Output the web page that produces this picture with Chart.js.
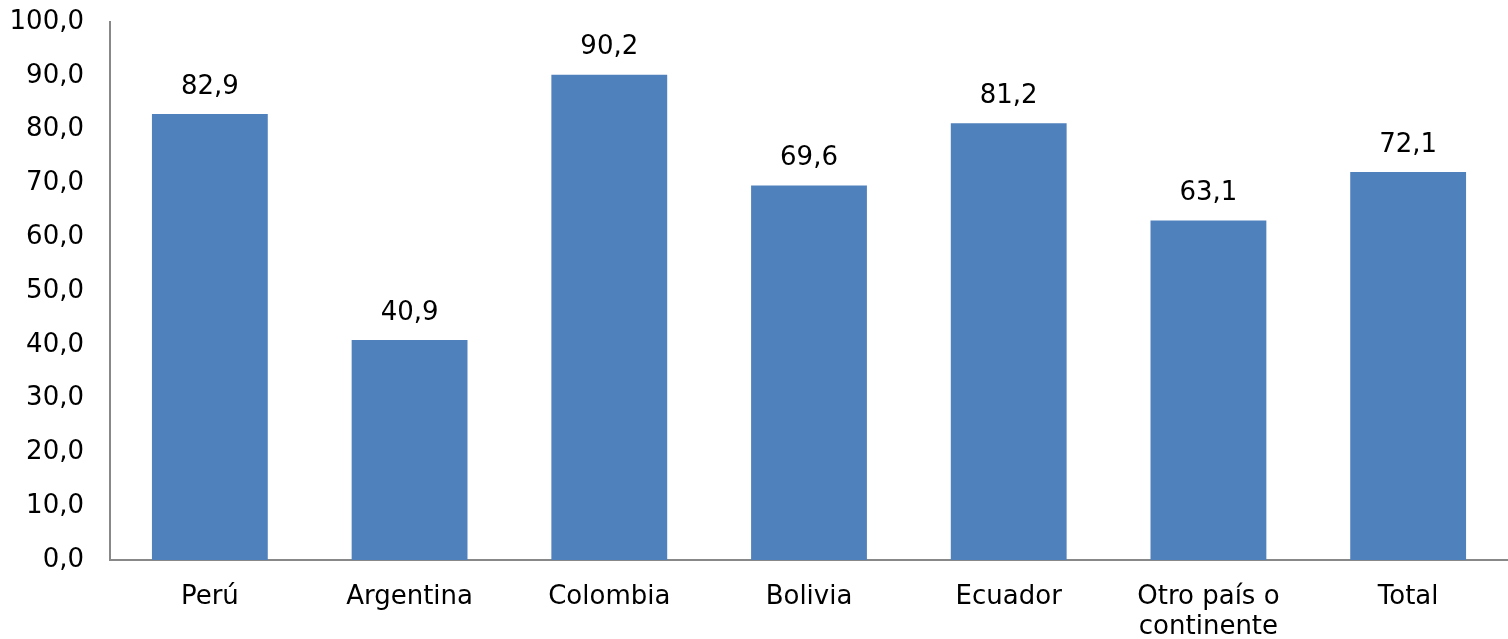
<!DOCTYPE html>
<html>
<head>
<meta charset="utf-8">
<script src="https://cdn.jsdelivr.net/npm/chart.js@4/dist/chart.umd.min.js"></script>
<style>
    html, body { margin: 0; padding: 0; background: #fff; }
    #wrap { width: 1508px; height: 639px; }
</style>
</head>
<body>
<div id="wrap"><canvas id="js-chart"></canvas></div>
<script>
// Chart data
const categories = ["Perú", "Argentina", "Colombia", "Bolivia", "Ecuador", ["Otro país o", "continente"], "Total"];
const values = [82.9, 40.9, 90.2, 69.6, 81.2, 63.1, 72.1];
const yTicks = [0, 10, 20, 30, 40, 50, 60, 70, 80, 90, 100];

const fontFamily = "'DejaVu Sans', Verdana, sans-serif";

// Comma decimal, one place
function fmt(v) {
    return v.toFixed(1).replace(".", ",");
}

Chart.defaults.color = "#000";
Chart.defaults.font.family = fontFamily;
Chart.defaults.font.size = 26;

// Value labels above the bars
const barLabels = {
    id: "barLabels",
    afterDatasetsDraw(chart) {
        const ctx = chart.ctx;
        const meta = chart.getDatasetMeta(0);
        ctx.save();
        ctx.font = "26px " + fontFamily;
        ctx.fillStyle = "#000";
        ctx.textAlign = "center";
        ctx.textBaseline = "middle";
        meta.data.forEach(function (bar, i) {
            ctx.fillText(fmt(values[i]), bar.x, bar.y - 27);
        });
        ctx.restore();
    },
};

new Chart(document.getElementById("js-chart"), {
    type: "bar",
    data: {
        labels: categories,
        datasets: [
            {
                data: values,
                backgroundColor: "#4F81BD",
                categoryPercentage: 1,
                barPercentage: 0.58,
            },
        ],
    },
    options: {
        responsive: true,
        maintainAspectRatio: false,
        animation: false,
        layout: { padding: { top: 22, right: 0, bottom: 0, left: 0 } },
        plugins: {
            legend: { display: false },
            tooltip: { enabled: false },
        },
        scales: {
            x: {
                grid: { display: false, drawTicks: false },
                border: { display: true, color: "#888", width: 2 },
                ticks: {
                    padding: 22,
                    maxRotation: 0,
                    autoSkip: false,
                    font: { size: 26, lineHeight: 1.15 },
                },
                afterFit(scale) {
                    scale.height = 79;
                    scale.paddingLeft = 0;
                    scale.paddingRight = 0;
                },
            },
            y: {
                min: 0,
                max: 100,
                grid: { display: false, drawTicks: false },
                border: { display: true, color: "#888", width: 2 },
                afterBuildTicks(scale) {
                    scale.ticks = yTicks.map(function (v) { return { value: v }; });
                },
                ticks: {
                    padding: 26,
                    callback: function (v) { return fmt(v); },
                },
                afterFit(scale) {
                    scale.width = 110;
                    scale.paddingTop = 0;
                    scale.paddingBottom = 0;
                },
            },
        },
    },
    plugins: [barLabels],
});
</script>
</body>
</html>
